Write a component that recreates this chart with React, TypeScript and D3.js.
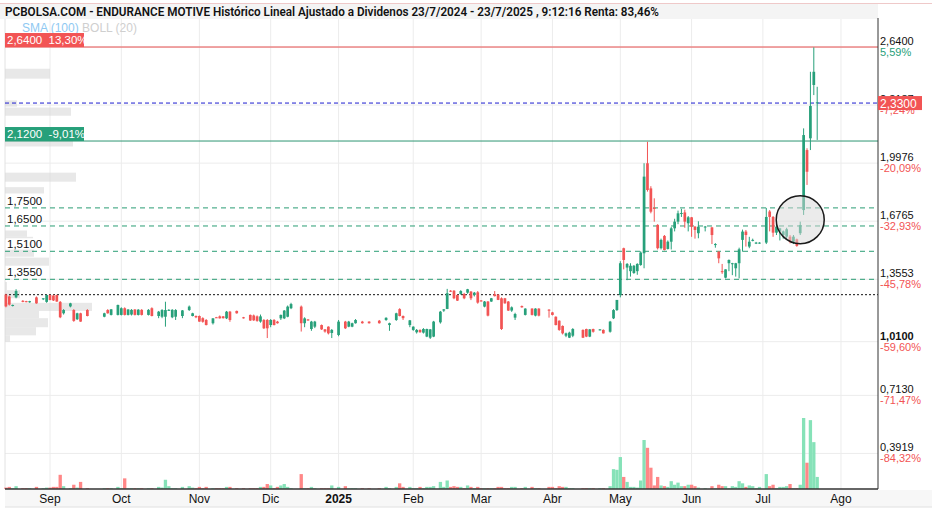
import React from "react";
import * as d3 from "d3";

type Bar = [number, number, number, number, number] | null; // open, high, low, close, volume

// one entry per trading day of each month (null = no trades)
const aug2024: Bar[] = [
  [1.27, 1.275, 1.2, 1.205, 2], [1.26, 1.265, 1.21, 1.215, 3], [1.21, 1.215, 1.205, 1.213, 1],
  [1.255, 1.3, 1.25, 1.29, 4], null, [1.236, 1.24, 1.228, 1.23, 1], [1.234, 1.236, 1.228, 1.23, 1],
  [1.228, 1.236, 1.225, 1.234, 1], null, [1.255, 1.26, 1.22, 1.222, 3], null,
  [1.245, 1.25, 1.24, 1.25, 1], [1.23, 1.27, 1.225, 1.268, 2],
];
const sep2024: Bar[] = [
  [1.268, 1.27, 1.24, 1.24, 2], [1.265, 1.27, 1.235, 1.238, 3], [1.268, 1.27, 1.23, 1.232, 3],
  [1.23, 1.235, 1.14, 1.145, 20], [1.167, 1.19, 1.16, 1.185, 4], null, [1.205, 1.225, 1.2, 1.222, 1],
  [1.185, 1.19, 1.12, 1.125, 6], [1.134, 1.17, 1.13, 1.167, 2], [1.167, 1.17, 1.12, 1.121, 10], null,
  [1.185, 1.19, 1.15, 1.152, 1], null, null, null, null, [1.148, 1.17, 1.145, 1.167, 1],
  [1.185, 1.19, 1.165, 1.167, 1], [1.158, 1.19, 1.155, 1.189, 1], null, [1.158, 1.215, 1.155, 1.213, 3],
];
const oct2024: Bar[] = [
  [1.158, 1.2, 1.155, 1.195, 1], [1.195, 1.2, 1.155, 1.158, 15], [1.158, 1.19, 1.155, 1.188, 1],
  [1.16, 1.19, 1.155, 1.186, 1], [1.188, 1.19, 1.155, 1.158, 1], [1.158, 1.19, 1.155, 1.187, 1],
  [1.186, 1.19, 1.155, 1.158, 1], null, [1.158, 1.19, 1.155, 1.186, 1], [1.195, 1.2, 1.15, 1.152, 1], null,
  [1.152, 1.18, 1.14, 1.176, 3], [1.148, 1.19, 1.14, 1.185, 2], [1.148, 1.231, 1.093, 1.185, 13],
  [1.183, 1.19, 1.18, 1.186, 4], [1.145, 1.19, 1.14, 1.186, 1], [1.148, 1.19, 1.13, 1.185, 1], null,
  [1.152, 1.185, 1.14, 1.183, 3], null, [1.185, 1.21, 1.18, 1.204, 4], [1.152, 1.17, 1.15, 1.167, 2],
  [1.152, 1.155, 1.14, 1.145, 1],
];
const nov2024: Bar[] = [
  [1.152, 1.155, 1.12, 1.121, 3], [1.14, 1.145, 1.115, 1.12, 1], [1.13, 1.135, 1.1, 1.102, 3], null,
  [1.112, 1.14, 1.105, 1.139, 1], [1.145, 1.147, 1.142, 1.143, 1], [1.15, 1.155, 1.138, 1.139, 1],
  [1.15, 1.152, 1.138, 1.14, 1], [1.139, 1.18, 1.135, 1.176, 3], [1.176, 1.18, 1.12, 1.13, 3], null,
  [1.18, 1.182, 1.165, 1.167, 1], null, [1.145, 1.147, 1.138, 1.139, 1], null,
  [1.158, 1.16, 1.125, 1.127, 1], [1.155, 1.16, 1.125, 1.128, 1], [1.15, 1.155, 1.12, 1.125, 1],
  [1.121, 1.16, 1.115, 1.15, 3], [1.13, 1.135, 1.08, 1.084, 3], [1.13, 1.135, 1.03, 1.084, 7],
];
const dec2024: Bar[] = [
  [1.102, 1.135, 1.09, 1.13, 5], [1.13, 1.135, 1.1, 1.102, 1], [1.121, 1.125, 1.11, 1.112, 3],
  [1.139, 1.16, 1.13, 1.158, 5], [1.139, 1.185, 1.135, 1.182, 7], [1.148, 1.21, 1.145, 1.204, 3],
  [1.195, 1.225, 1.19, 1.218, 1], null, null, [1.204, 1.21, 1.066, 1.112, 21],
  [1.112, 1.145, 1.09, 1.139, 1], [1.133, 1.135, 1.125, 1.128, 1], [1.08, 1.125, 1.07, 1.121, 3],
  [1.093, 1.125, 1.085, 1.121, 1], null, [1.102, 1.105, 1.075, 1.078, 1], [1.078, 1.08, 1.06, 1.066, 1],
  [1.093, 1.095, 1.05, 1.056, 1], [1.058, 1.08, 1.03, 1.075, 5], null,
];
const jan2025: Bar[] = [
  [1.047, 1.13, 1.04, 1.121, 3], null, [1.121, 1.125, 1.08, 1.084, 4], [1.093, 1.125, 1.09, 1.121, 1],
  [1.093, 1.115, 1.09, 1.112, 1], [1.112, 1.135, 1.11, 1.13, 1], null, [1.121, 1.125, 1.11, 1.112, 1],
  null, [1.121, 1.123, 1.11, 1.112, 1], null, null, [1.126, 1.13, 1.11, 1.112, 1], null,
  [1.13, 1.145, 1.125, 1.142, 3], [1.102, 1.115, 1.07, 1.112, 1], null, [1.13, 1.17, 1.125, 1.167, 3],
  [1.19, 1.195, 1.15, 1.152, 8], [1.152, 1.155, 1.13, 1.14, 3], null, [1.102, 1.13, 1.09, 1.128, 3],
];
const feb2025: Bar[] = [
  [1.075, 1.095, 1.07, 1.093, 1], [1.062, 1.08, 1.055, 1.075, 1], [1.075, 1.078, 1.06, 1.062, 3],
  [1.06, 1.085, 1.055, 1.08, 1], [1.038, 1.082, 1.035, 1.08, 3], [1.032, 1.08, 1.025, 1.078, 3],
  [1.038, 1.125, 1.035, 1.121, 4], null, [1.117, 1.18, 1.11, 1.176, 10], [1.182, 1.19, 1.175, 1.189, 3],
  [1.191, 1.302, 1.19, 1.278, 12], [1.292, 1.295, 1.285, 1.288, 3], [1.292, 1.295, 1.245, 1.25, 4],
  [1.268, 1.27, 1.235, 1.237, 3], [1.274, 1.295, 1.27, 1.29, 3], [1.274, 1.28, 1.245, 1.25, 1],
  [1.281, 1.302, 1.275, 1.3, 5], [1.287, 1.29, 1.24, 1.25, 3], [1.268, 1.285, 1.26, 1.281, 1],
  [1.283, 1.29, 1.22, 1.226, 3],
];
const mar2025: Bar[] = [
  [1.238, 1.24, 1.232, 1.236, 1], [1.204, 1.235, 1.2, 1.232, 1], [1.232, 1.235, 1.15, 1.154, 1],
  [1.232, 1.252, 1.23, 1.25, 1], [1.272, 1.29, 1.26, 1.262, 1], [1.27, 1.272, 1.24, 1.241, 3],
  [1.25, 1.255, 1.075, 1.08, 3], [1.25, 1.252, 1.22, 1.222, 1], [1.232, 1.235, 1.18, 1.182, 1],
  [1.182, 1.205, 1.175, 1.2, 3], [1.143, 1.17, 1.13, 1.163, 3], null, [1.207, 1.21, 1.198, 1.2, 1],
  [1.158, 1.195, 1.155, 1.193, 3], null, [1.193, 1.195, 1.155, 1.158, 3], [1.154, 1.195, 1.15, 1.193, 1],
  [1.193, 1.195, 1.15, 1.154, 1], null, null, [1.187, 1.19, 1.143, 1.183, 3],
];
const apr2025: Bar[] = [
  [1.172, 1.175, 1.155, 1.158, 3], [1.148, 1.15, 1.1, 1.102, 1], [1.126, 1.128, 1.07, 1.075, 4],
  [1.097, 1.1, 1.05, 1.056, 3], [1.043, 1.06, 1.035, 1.056, 3], [1.032, 1.065, 1.03, 1.06, 1],
  [1.043, 1.085, 1.035, 1.08, 1], null, null, [1.075, 1.078, 1.03, 1.032, 1], [1.08, 1.082, 1.035, 1.038, 1],
  [1.038, 1.08, 1.035, 1.078, 1], [1.08, 1.082, 1.06, 1.065, 1], null, [1.076, 1.08, 1.072, 1.078, 1],
  [1.075, 1.078, 1.055, 1.056, 1], null, [1.065, 1.125, 1.06, 1.121, 4], [1.139, 1.19, 1.135, 1.185, 28],
  [1.185, 1.24, 1.18, 1.241, 27],
];
const may2025: Bar[] = [
  [1.268, 1.455, 1.255, 1.444, 45], [1.527, 1.53, 1.41, 1.462, 17], [1.42, 1.445, 1.35, 1.44, 10],
  [1.4, 1.444, 1.37, 1.43, 3], [1.39, 1.434, 1.385, 1.43, 3], [1.4, 1.444, 1.38, 1.44, 2],
  [1.434, 1.51, 1.43, 1.503, 12], [1.499, 1.997, 1.416, 1.923, 69], [1.997, 2.116, 1.84, 1.849, 58],
  [1.858, 1.87, 1.72, 1.729, 30], [1.75, 1.803, 1.674, 1.745, 5], [1.656, 1.66, 1.52, 1.527, 17],
  [1.527, 1.58, 1.52, 1.573, 5], [1.595, 1.6, 1.515, 1.517, 4], [1.523, 1.57, 1.52, 1.563, 3],
  [1.563, 1.645, 1.52, 1.637, 11], [1.637, 1.69, 1.62, 1.674, 6], [1.674, 1.735, 1.66, 1.72, 9],
  [1.718, 1.745, 1.7, 1.722, 4], [1.725, 1.74, 1.64, 1.674, 4], [1.665, 1.705, 1.62, 1.698, 6],
];
const jun2025: Bar[] = [
  [1.698, 1.7, 1.59, 1.646, 6], [1.646, 1.65, 1.58, 1.628, 4], [1.61, 1.676, 1.582, 1.646, 2], null,
  [1.644, 1.65, 1.62, 1.647, 1], null, [1.642, 1.645, 1.55, 1.6, 4], [1.546, 1.555, 1.53, 1.55, 1],
  [1.508, 1.51, 1.444, 1.471, 6], [1.4, 1.44, 1.385, 1.395, 4], [1.364, 1.41, 1.36, 1.41, 4],
  [1.444, 1.465, 1.4, 1.462, 1], [1.44, 1.446, 1.378, 1.444, 4], [1.416, 1.446, 1.37, 1.444, 3],
  [1.444, 1.53, 1.36, 1.521, 11], [1.573, 1.63, 1.508, 1.619, 8], [1.619, 1.628, 1.536, 1.6, 3],
  [1.536, 1.59, 1.527, 1.563, 5], [1.57, 1.58, 1.565, 1.573, 4], [1.556, 1.562, 1.55, 1.558, 1],
  [1.556, 1.56, 1.552, 1.558, 3],
];
const jul2025: Bar[] = [
  null, [1.558, 1.75, 1.55, 1.7, 21], [1.73, 1.738, 1.62, 1.7, 4], [1.7, 1.705, 1.59, 1.613, 6],
  [1.613, 1.665, 1.6, 1.646, 1], [1.62, 1.64, 1.57, 1.637, 3], [1.6, 1.625, 1.58, 1.62, 3],
  [1.591, 1.64, 1.58, 1.632, 4], [1.591, 1.6, 1.554, 1.563, 7], [1.563, 1.6, 1.55, 1.591, 1],
  [1.576, 1.58, 1.535, 1.54, 1], [1.61, 1.674, 1.6, 1.655, 6], [1.738, 2.19, 1.711, 2.153, 100],
  [2.07, 2.08, 1.877, 1.95, 37], [2.135, 2.503, 2.07, 2.314, 97], [2.43, 2.638, 2.374, 2.503, 66],
  [2.33, 2.42, 2.126, 2.334, 17],
];
const monthBars: Bar[][] = [aug2024, sep2024, oct2024, nov2024, dec2024, jan2025, feb2025, mar2025, apr2025, may2025, jun2025, jul2025];

const firstDay = "2024-08-14";
const lastDay = "2025-08-18";
const holidays = ["2024-12-25", "2024-12-26", "2025-01-01", "2025-04-18", "2025-04-21", "2025-05-01"];
const monthNames = ["2025", "Feb", "Mar", "Abr", "May", "Jun", "Jul", "Ago", "Sep", "Oct", "Nov", "Dic"];

const priceTicks = [2.64, 2.3187, 1.9976, 1.6765, 1.3553, 1.01, 0.713, 0.3919];
const priceTickLabels = ["2,6400", "2,3187", "1,9976", "1,6765", "1,3553", "1,0100", "0,7130", "0,3919"];
const priceTickPct = ["5,59%", "-7,24%", "-20,09%", "-32,93%", "-45,78%", "-59,60%", "-71,47%", "-84,32%"];

const supportLevels = [1.75, 1.65, 1.51, 1.355];
const supportLabels = ["1,7500", "1,6500", "1,5100", "1,3550"];
const maxLevel = 2.64;
const maxLevelText = "2,6400  13,30%";
const breakLevel = 2.12;
const breakLevelText = "2,1200  -9,01%";
const lastPrice = 2.33;
const lastPriceText = "2,3300";
const basePrice = 1.27;

const profileLow = [2.465, 2.31, 2.26, 2.09, 1.895, 1.83, 1.59, 1.575, 1.48, 1.43, 1.295, 1.25, 1.18, 1.14, 1.09, 1.045, 1.01];
const profileHigh = [2.52, 2.345, 2.305, 2.125, 1.945, 1.865, 1.625, 1.59, 1.52, 1.475, 1.34, 1.295, 1.225, 1.18, 1.14, 1.09, 1.045];
const profileVol = [45, 12, 66, 68, 71, 39, 22, 28, 29, 44, 2, 15, 87, 34, 43, 31, 5];

const circleDate = "2025-07-16";
const circlePrice = 1.685;

const title = "PCBOLSA.COM - ENDURANCE MOTIVE Histórico Lineal Ajustado a Dividenos 23/7/2024 - 23/7/2025 , 9:12:16 Renta: 83,46%";

const UP = "#27a07a";
const DOWN = "#f25454";
const VUP = "#86e2b8";
const VDOWN = "#ff8787";
const GRID = "#ececec";

export default function App() {
  const W = 932, H = 512;
  const L = 5, R = 878, T = 19, B = 489;

  const fmt = d3.utcFormat("%Y-%m-%d");
  const parse = d3.utcParse("%Y-%m-%d");
  const start = parse(firstDay) as Date;
  const end = d3.utcDay.offset(parse(lastDay) as Date, 1);
  const days = d3.utcDays(start, end).filter(
    (d) => d.getUTCDay() !== 0 && d.getUTCDay() !== 6 && !holidays.includes(fmt(d))
  );
  const dayKeys = days.map(fmt);
  const monthKeys = Array.from(new Set(dayKeys.map((k) => k.slice(0, 7))));

  const candles: { date: string; o: number; h: number; l: number; c: number; v: number }[] = [];
  monthKeys.forEach((mk, k) => {
    const md = dayKeys.filter((d) => d.slice(0, 7) === mk);
    const arr = monthBars[k] || [];
    md.forEach((d, j) => {
      const b = arr[j];
      if (b) candles.push({ date: d, o: b[0], h: b[1], l: b[2], c: b[3], v: b[4] });
    });
  });

  const x = d3.scaleBand<string>().domain(dayKeys).range([4.2, 880]).paddingInner(0.2).paddingOuter(0.1);
  const bw = x.bandwidth();
  const cx = (d: string) => (x(d) as number) + bw / 2;
  const y = d3.scaleLinear().domain([0.195, 2.795]).range([B, T]);
  const yv = d3.scaleLinear().domain([0, d3.max(candles, (c) => c.v) as number]).range([B, 418]);
  const pw = d3.scaleLinear().domain([0, 100]).range([0, 100]);

  const monthTicks = monthKeys.slice(1).map((mk) => {
    const first = dayKeys.find((d) => d.slice(0, 7) === mk) as string;
    const m = +mk.slice(5, 7);
    return { key: mk, x: cx(first), label: monthNames[m - 1], bold: m === 1 };
  });

  const font = "'Liberation Sans', Arial, sans-serif";

  return (
    <div style={{ position: "absolute", left: 0, top: 0 }}>
      <svg width={W} height={H} style={{ display: "block", background: "#fff" }}>
        {/* header */}
        <line x1={0} x2={W} y1={3.5} y2={3.5} stroke="#efc9c9" />
        <rect x={0} y={4} width={R} height={15} fill="#f4f4f4" />
        <text x={5} y={16} fontFamily="Roboto, sans-serif" fontWeight={600} fontSize={12.5} fill="#111"
          textLength={654} lengthAdjust="spacingAndGlyphs">
          {title}
        </text>

        {/* grid */}
        {priceTicks.map((p, i) => (
          <line key={"hg" + i} x1={L} x2={R} y1={y(p)} y2={y(p)} stroke={GRID} />
        ))}
        {monthTicks.map((t) => (
          <line key={"vg" + t.key} x1={t.x} x2={t.x} y1={T} y2={B} stroke={GRID} />
        ))}
        <line x1={L} x2={L} y1={T} y2={B} stroke="#e2e2e2" />

        {/* volume profile */}
        {profileVol.map((v, i) => (
          <rect key={"pf" + i} x={L} y={y(profileHigh[i])} width={pw(v)} height={y(profileLow[i]) - y(profileHigh[i])}
            fill="#d8d8d8" fillOpacity={0.6} />
        ))}

        {/* volume */}
        {candles.map((c) => (
          <rect key={"v" + c.date} x={(x(c.date) as number) - 0.3} y={yv(c.v)} width={bw + 0.6} height={B - yv(c.v)}
            fill={c.c >= c.o ? VUP : VDOWN} />
        ))}

        {/* level lines */}
        <line x1={L} x2={R} y1={y(basePrice)} y2={y(basePrice)} stroke="#111" strokeDasharray="2,2" />
        {supportLevels.map((p, i) => (
          <line key={"sl" + i} x1={L} x2={R} y1={y(p)} y2={y(p)} stroke="#2a9d74" strokeDasharray="5,4" />
        ))}
        <line x1={L} x2={R} y1={y(lastPrice)} y2={y(lastPrice)} stroke="#1c1ccf" strokeDasharray="4,3" />
        <line x1={L} x2={R} y1={y(maxLevel)} y2={y(maxLevel)} stroke="#e85050" />
        <line x1={L} x2={R} y1={y(breakLevel)} y2={y(breakLevel)} stroke="#2e9673" />

        {/* candles */}
        {candles.map((c) => {
          const col = c.c >= c.o ? UP : DOWN;
          const xc = cx(c.date);
          const top = y(Math.max(c.o, c.c));
          const bot = y(Math.min(c.o, c.c));
          return (
            <g key={"c" + c.date}>
              <line x1={xc} x2={xc} y1={y(c.h)} y2={y(c.l)} stroke={col} strokeWidth={1} />
              <rect x={xc - bw / 2} y={top} width={bw} height={Math.max(1, bot - top)} fill={col} />
            </g>
          );
        })}

        {/* circle annotation */}
        <circle cx={cx(circleDate)} cy={y(circlePrice)} r={24} fill="#d8d8d8" fillOpacity={0.5} stroke="#1a1a1a" strokeWidth={1.5} />

        {/* left labels */}
        <text x={22} y={32} fontFamily={font} fontSize={12} fill="#8fc9f2">SMA (100)
          <tspan fill="#cfcfcf"> BOLL (20)</tspan>
        </text>
        <rect x={L} y={y(maxLevel) - 14} width={79} height={14} fill="#f25454" />
        <text x={7} y={y(maxLevel) - 3} fontFamily={font} fontSize={11.5} fill="#fff" style={{ whiteSpace: "pre" }}>{maxLevelText}</text>
        <rect x={L} y={y(breakLevel) - 14} width={79} height={14} fill="#27a07a" />
        <text x={7} y={y(breakLevel) - 3} fontFamily={font} fontSize={11.5} fill="#fff" style={{ whiteSpace: "pre" }}>{breakLevelText}</text>
        {supportLevels.map((p, i) => (
          <g key={"slb" + i}>
            <rect x={L + 1} y={y(p) - 13} width={34} height={11} fill="#fff" />
            <text x={7} y={y(p) - 3} fontFamily={font} fontSize={11.5} fill="#111">{supportLabels[i]}</text>
          </g>
        ))}

        {/* right axis */}
        <line x1={R} x2={R} y1={T - 1} y2={B} stroke="#333" />
        {priceTicks.map((p, i) => (
          <g key={"pt" + i}>
            <text x={R + 2} y={y(p) - 2} fontFamily={font} fontSize={11} fill="#111" fontWeight={i === 5 ? 700 : 400}>{priceTickLabels[i]}</text>
            <text x={R + 2} y={y(p) + 9} fontFamily={font} fontSize={11} fill={priceTickPct[i].startsWith("-") ? "#f25454" : "#27a07a"}>{priceTickPct[i]}</text>
          </g>
        ))}
        <rect x={R} y={y(lastPrice) - 7} width={44} height={14} fill="#f25454" />
        <text x={R + 2} y={y(lastPrice) + 4.5} fontFamily={font} fontSize={12} fill="#fff">{lastPriceText}</text>

        {/* bottom axis */}
        <rect x={L} y={B + 1} width={W - L} height={17} fill="#f7f7f7" />
        <line x1={L} x2={W} y1={B + 18} y2={B + 18} stroke="#e0e0e0" />
        <line x1={L} x2={R} y1={B} y2={B} stroke="#333" strokeWidth={1.5} />
        {monthTicks.map((t) => (
          <text key={"ml" + t.key} x={t.x} y={503} textAnchor="middle" fontFamily="'Liberation Sans Narrow', 'Liberation Sans', sans-serif"
            fontSize={12} fontWeight={t.bold ? 700 : 400} fill="#111">{t.label}</text>
        ))}
      </svg>
    </div>
  );
}
